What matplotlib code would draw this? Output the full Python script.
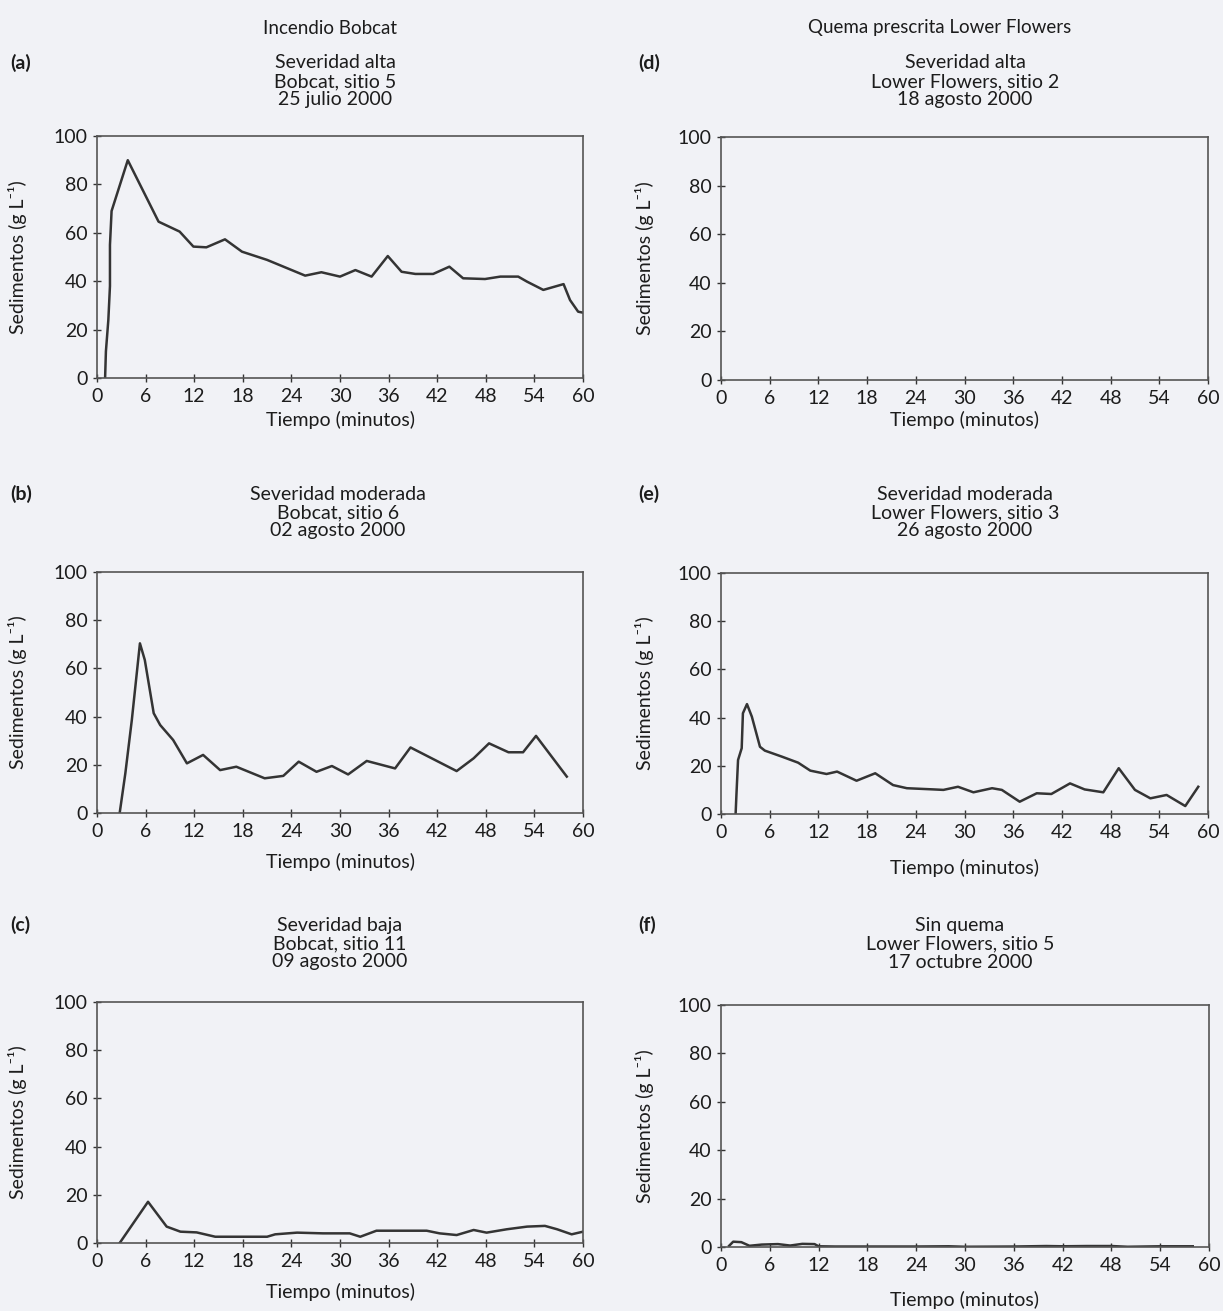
import matplotlib
matplotlib.use("Agg")
import matplotlib.pyplot as plt

# fuente estrecha, con respaldo para el superindice
FAM = ['Lato', 'DejaVu Sans']
plt.rcParams['font.family'] = FAM

W, H = 1223, 1311

# datos: tiempo (min) y sedimentos (g/L)
t_a = [1.0, 1.1, 1.4, 1.6, 1.6, 1.8, 3.8, 7.6, 10.2, 11.9, 13.5, 15.8, 17.9, 21.0,
       25.7, 27.7, 30.0, 31.9, 33.9, 35.9, 37.6, 39.3, 41.5, 43.5, 45.2, 47.9,
       49.8, 52.0, 53.1, 55.1, 57.6, 58.4, 59.4, 60.0]
s_a = [0, 11, 24, 38, 55, 69, 90, 64.6, 60.5, 54.3, 54, 57.3, 52.2, 48.8,
       42.3, 43.7, 41.9, 44.6, 41.9, 50.4, 43.9, 43, 43, 46, 41.2, 40.9,
       41.9, 41.9, 39.8, 36.4, 38.8, 32.2, 27.4, 27]

t_b = [2.8, 3.5, 4.3, 5.3, 5.9, 7.0, 7.8, 9.4, 11.1, 13.1, 15.2, 17.2, 20.7, 23.0,
       24.9, 27.1, 29.0, 31.0, 33.3, 36.8, 38.7, 44.4, 46.5, 48.4, 50.8, 52.6,
       54.2, 58.0]
s_b = [0, 16.5, 38.6, 70.4, 63.5, 41.4, 36.5, 30.3, 20.6, 24.1, 17.8, 19.2, 14.4, 15.4,
       21.3, 17.1, 19.5, 16, 21.6, 18.5, 27.2, 17.4, 22.7, 28.9, 25.2, 25.2,
       32, 15.1]

t_c = [2.8, 6.3, 8.6, 10.3, 12.3, 14.6, 18.1, 21.0, 22.0, 24.7, 27.9, 31.2, 32.5,
       34.5, 40.7, 42.3, 44.4, 46.5, 48.1, 50.6, 53.1, 55.3, 56.8, 58.6, 60.0]
s_c = [0, 17.1, 6.8, 4.7, 4.4, 2.6, 2.6, 2.6, 3.6, 4.3, 4, 4, 2.6,
       5.1, 5.1, 4, 3.3, 5.4, 4.3, 5.7, 6.8, 7.1, 5.7, 3.6, 4.7]

t_e = [1.8, 1.9, 2.1, 2.55, 2.7, 3.2, 3.8, 4.8, 5.4, 7.5, 9.5, 11.0, 13.0, 14.3,
       16.7, 19.0, 21.2, 22.9, 26.2, 27.4, 29.2, 31.1, 33.4, 34.6, 36.8, 38.9,
       40.7, 43.0, 44.8, 47.1, 49.0, 51.0, 52.9, 54.9, 57.2, 58.8]
s_e = [0, 7.9, 22.4, 27.3, 41.8, 45.6, 40.4, 27.9, 26.3, 23.8, 21.3, 18, 16.6, 17.6,
       13.8, 16.9, 12, 10.7, 10.2, 10, 11.3, 9, 10.7, 10, 5.1, 8.6,
       8.3, 12.7, 10.2, 9, 19, 10, 6.5, 7.9, 3.3, 11.3]

t_f = [1.0, 1.5, 2.5, 3.5, 5.0, 7.0, 8.5, 10.0, 11.5, 12.0, 14.0, 18.0, 24.0, 28.0,
       30.0, 36.0, 40.0, 42.0, 45.0, 48.0, 50.0, 54.0, 58.0]
s_f = [0.5, 2.2, 2.0, 0.5, 1.0, 1.2, 0.6, 1.3, 1.2, 0.3, 0.2, 0.2, 0.2, 0.3,
       0.1, 0.2, 0.4, 0.3, 0.4, 0.4, 0.1, 0.3, 0.3]

# letra, titulo (3 lineas), t, s, caja de ejes [izq, arriba, der, abajo] en px,
# centro x del titulo, y de la primera linea, y del xlabel
paneles = [
    ('(a)', ['Severidad alta', 'Bobcat, sitio 5', '25 julio 2000'], t_a, s_a,
     [97, 136, 583, 378], 335, 63, 420),
    ('(b)', ['Severidad moderada', 'Bobcat, sitio 6', '02 agosto 2000'], t_b, s_b,
     [97, 572, 583, 813], 338, 494, 862),
    ('(c)', ['Severidad baja', 'Bobcat, sitio 11', '09 agosto 2000'], t_c, s_c,
     [97, 1002, 583, 1243], 340, 925, 1292),
    ('(d)', ['Severidad alta', 'Lower Flowers, sitio 2', '18 agosto 2000'], None, None,
     [721, 137, 1208, 380], 965, 63, 420),
    ('(e)', ['Severidad moderada', 'Lower Flowers, sitio 3', '26 agosto 2000'], t_e, s_e,
     [721, 573, 1208, 814], 965, 494, 868),
    ('(f)', ['Sin quema', 'Lower Flowers, sitio 5', '17 octubre 2000'], t_f, s_f,
     [721, 1005, 1209, 1247], 960, 925, 1300),
]

BG = '#f1f2f6'
TXT = '#1c1c1c'
FS = 14
fig = plt.figure(figsize=(W / 100, H / 100), dpi=100, facecolor=BG)


def txt(x, y, s, **kw):
    fig.text(x / W, 1 - y / H, s, va='center', color=TXT, **kw)


txt(330, 28, 'Incendio Bobcat', ha='center', fontsize=FS - 0.5)
txt(940, 28, 'Quema prescrita Lower Flowers', ha='center', fontsize=FS - 0.5)

for letra, titulo, t, s, (l, tp, r, b), tx, ty, xl_y in paneles:
    ax = fig.add_axes([l / W, 1 - b / H, (r - l) / W, (b - tp) / H])
    ax.set_facecolor(BG)
    if t is not None:
        ax.plot(t, s, color='#343434', lw=1.8)
    ax.set_xlim(0, 60)
    ax.set_ylim(0, 100)
    ax.set_xticks(range(0, 61, 6))
    ax.set_yticks(range(0, 101, 20))
    ax.tick_params(direction='inout', length=6, width=1, colors='#333333',
                   labelsize=FS, labelcolor=TXT, pad=4)
    for sp in ax.spines.values():
        sp.set_color('#555555')
        sp.set_linewidth(1.2)

    izq = l < 600
    txt(10 if izq else 638, ty, letra, ha='left', fontsize=FS, fontweight='bold')
    for i, linea in enumerate(titulo):
        txt(tx, ty + i * 18.5, linea, ha='center', fontsize=FS)
    txt((l + r) / 2, xl_y, 'Tiempo (minutos)', ha='center', fontsize=FS)
    txt(18 if izq else 645, (tp + b) / 2, 'Sedimentos (g L⁻¹)',
        ha='center', rotation=90, fontsize=FS)

fig.savefig('out.png', dpi=100, facecolor=BG)
